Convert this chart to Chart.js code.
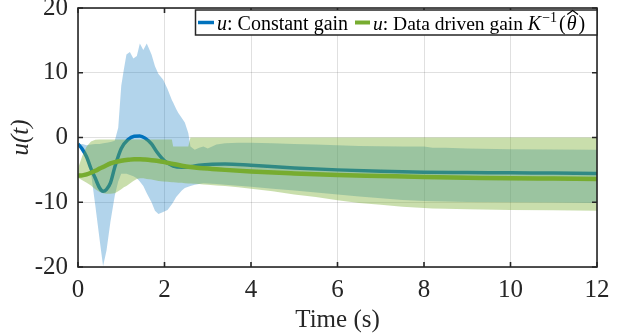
<!DOCTYPE html>
<html><head><meta charset="utf-8">
<script src="https://cdn.jsdelivr.net/npm/chart.js@4.4.0/dist/chart.umd.min.js"></script>
<style>html,body{margin:0;padding:0;background:#fff;overflow:hidden}#wrap{width:619px;height:336px}</style>
</head><body><div id="wrap"><canvas id="c" width="619" height="336"></canvas></div>
<script>
// ---- data ----
const seriesLabels = ['u: Constant gain', 'u: Data driven gain K^{-1}(θ̂)'];
const xTickValues = [0, 2, 4, 6, 8, 10, 12];
const yTickValues = [-20, -10, 0, 10, 20];

const tLine = [0,0.1,0.2,0.3,0.4,0.5,0.58,0.66,0.75,0.85,1.0,1.16,1.3,1.43,1.55,1.7,1.82,2.0,2.2,2.4,2.6,2.8,3.1,3.4,4,5,6,7,8,9,10,11,12];
const uConst = [-1.0,-1.8,-3.0,-4.8,-6.3,-7.8,-8.3,-8.0,-7.0,-4.6,-1.7,-0.3,0.2,0.25,-0.1,-1.0,-2.2,-3.6,-4.4,-4.6,-4.5,-4.3,-4.15,-4.1,-4.3,-4.7,-5.0,-5.2,-5.35,-5.4,-5.45,-5.5,-5.55];
const uData = [-5.9,-5.85,-5.7,-5.45,-5.15,-4.8,-4.55,-4.3,-4.0,-3.8,-3.6,-3.45,-3.35,-3.35,-3.4,-3.5,-3.6,-3.8,-4.1,-4.35,-4.55,-4.7,-4.85,-5.0,-5.25,-5.55,-5.8,-5.95,-6.1,-6.2,-6.3,-6.35,-6.4];

const tBand = [0,0.1,0.2,0.3,0.4,0.5,0.58,0.66,0.75,0.85,0.93,1.0,1.06,1.12,1.2,1.28,1.36,1.43,1.51,1.59,1.7,1.78,1.86,1.97,2.07,2.17,2.2,2.27,2.32,2.4,2.47,2.55,2.6,2.7,2.8,2.9,3.0,3.2,3.4,3.7,4.0,4.5,5.0,5.5,6.0,6.5,7.0,7.5,8.0,8.2,8.5,9,10,11,12];
const constUpper = [-1.0,-1.0,-1.2,-1.1,-1.0,-1.0,-0.9,-0.8,-0.7,-0.5,1.5,8.0,10.5,12.8,13.2,12.2,12.6,14.5,13.5,14.5,12.8,11.0,9.8,8.9,7.5,5.8,5.4,4.4,3.8,3.0,2.3,0.7,-1.4,-1.9,-1.6,-1.4,-1.7,-1.1,-0.9,-0.8,-0.8,-0.9,-1.0,-1.1,-1.2,-1.3,-1.35,-1.4,-1.4,-1.6,-1.6,-1.7,-1.8,-1.85,-1.9];
const constLower = [-1.2,-1.8,-2.6,-5.5,-10.5,-15.8,-19.9,-17.4,-13.0,-9.0,-6.8,-5.6,-5.6,-5.6,-5.8,-6.0,-6.3,-6.8,-7.5,-8.6,-10.0,-11.3,-11.8,-11.5,-11.2,-10.3,-10.0,-9.2,-8.8,-8.2,-7.8,-7.6,-7.5,-7.3,-7.2,-7.05,-7.1,-7.2,-7.3,-7.45,-7.6,-7.9,-8.2,-8.5,-8.8,-9.1,-9.4,-9.65,-9.8,-9.85,-9.9,-9.95,-10.0,-10.05,-10.1];
const dataUpper = [-4.8,-2.8,-1.4,-0.6,-0.35,-0.3,-0.3,-0.3,-0.3,-0.3,-0.3,-0.3,-0.3,-0.3,-0.3,-0.3,-0.3,-0.3,-0.3,-0.3,-0.3,-0.3,-0.3,-0.3,-0.3,-0.3,-1.4,-1.4,-1.4,-1.4,-1.4,-1.4,0,0,0,0,0,0,0,0,0,0,0,0,0,0,0,0,0,0,0,0,0,0,0];
const dataLower = [-6.2,-6.6,-7.0,-7.4,-8.0,-8.4,-8.6,-8.7,-8.7,-8.6,-8.3,-8.0,-7.7,-7.5,-7.1,-6.7,-6.4,-6.3,-6.3,-6.4,-6.5,-6.6,-6.7,-6.8,-6.85,-6.9,-6.9,-6.95,-7.0,-7.0,-7.05,-7.1,-7.1,-7.15,-7.2,-7.25,-7.3,-7.4,-7.5,-7.7,-7.9,-8.3,-8.8,-9.2,-9.7,-10.1,-10.4,-10.7,-10.9,-10.95,-11.0,-11.1,-11.2,-11.25,-11.3];

// ---- styles ----
const BLUE = '#0072BD', GREEN = '#77AC30';
const BLUE_FILL = 'rgba(0,114,189,0.30)', GREEN_FILL = 'rgba(119,172,48,0.40)';
const SERIF = '"Liberation Serif", "Times New Roman", serif';
const AXIS = '#262626';

const pts = (xs, ys) => xs.map((x, i) => ({x, y: ys[i]}));
const edge = {borderColor: 'rgba(0,0,0,0)', borderWidth: 1, pointRadius: 0, tension: 0};

const frame = {
  id: 'frame',
  afterDatasetsDraw(chart) {
    const {ctx, chartArea: a, scales: {x, y}} = chart;
    ctx.save();
    ctx.strokeStyle = AXIS; ctx.lineWidth = 1.6;
    ctx.beginPath();
    const L = 5;
    xTickValues.forEach(v => { const p = x.getPixelForValue(v);
      ctx.moveTo(p, a.bottom); ctx.lineTo(p, a.bottom - L);
      ctx.moveTo(p, a.top); ctx.lineTo(p, a.top + L); });
    yTickValues.forEach(v => { const p = y.getPixelForValue(v);
      ctx.moveTo(a.left, p); ctx.lineTo(a.left + L, p);
      ctx.moveTo(a.right, p); ctx.lineTo(a.right - L, p); });
    ctx.stroke();
    ctx.strokeRect(a.left, a.top, a.right - a.left, a.bottom - a.top);
    ctx.restore();
  }
};

const legendBox = {
  id: 'legendBox',
  afterDraw(chart) {
    const {ctx, chartArea: a} = chart;
    const bx = 195.5, by = 10, bw = a.right - bx, bh = 25;
    ctx.save();
    ctx.fillStyle = '#fff'; ctx.fillRect(bx, by, bw, bh);
    ctx.strokeStyle = AXIS; ctx.lineWidth = 1.5; ctx.strokeRect(bx, by, bw, bh);
    const base = 30, ly = 22.5;
    ctx.fillStyle = '#000'; ctx.textBaseline = 'alphabetic'; ctx.textAlign = 'left';
    let cx;
    const seg = (txt, style, size, dy) => { ctx.font = style + ' ' + size + 'px ' + SERIF; ctx.fillText(txt, cx, base + (dy || 0)); const w = ctx.measureText(txt).width; cx += w; return w; };
    ctx.lineWidth = 3.5; ctx.strokeStyle = BLUE;
    ctx.beginPath(); ctx.moveTo(198, ly); ctx.lineTo(214, ly); ctx.stroke();
    cx = 217;
    seg('u', 'italic', 20); seg(': Constant gain', 'normal', 20);
    ctx.lineWidth = 4; ctx.strokeStyle = GREEN;
    ctx.beginPath(); ctx.moveTo(355, ly); ctx.lineTo(370, ly); ctx.stroke();
    cx = 373;
    seg('u', 'italic', 19.5); seg(': Data driven gain ', 'normal', 19.5);
    seg('K', 'italic', 20); cx += 1;
    seg('\u22121', 'normal', 14, -8); cx += 2;
    seg('(', 'normal', 20); cx += 1;
    const tx = cx; const tw = seg('\u03B8', 'italic', 20); cx += 2;
    seg(')', 'normal', 20);
    ctx.strokeStyle = '#000'; ctx.lineWidth = 1.1;
    ctx.beginPath(); ctx.moveTo(tx + 0.5, base - 15.5); ctx.lineTo(tx + tw / 2 + 1, base - 19.5); ctx.lineTo(tx + tw + 1.5, base - 15.5); ctx.stroke();
    ctx.restore();
  }
};

new Chart(document.getElementById('c'), {
  type: 'line',
  data: {
    datasets: [
      {label: seriesLabels[1], data: pts(tLine, uData), borderColor: GREEN, borderWidth: 4.5, pointRadius: 0, cubicInterpolationMode: 'monotone', fill: false, borderJoinStyle: 'round'},
      {label: 'data upper', data: pts(tBand, dataUpper), ...edge, fill: '+1', backgroundColor: GREEN_FILL},
      {label: 'data lower', data: pts(tBand, dataLower), ...edge, fill: false},
      {label: seriesLabels[0], data: pts(tLine, uConst), borderColor: BLUE, borderWidth: 3.5, pointRadius: 0, cubicInterpolationMode: 'monotone', fill: false, borderJoinStyle: 'round'},
      {label: 'const upper', data: pts(tBand, constUpper), ...edge, fill: '+1', backgroundColor: BLUE_FILL},
      {label: 'const lower', data: pts(tBand, constLower), ...edge, fill: false}
    ]
  },
  options: {
    responsive: false, animation: false, devicePixelRatio: 1,
    layout: {padding: {top: 8, right: 22, left: 0, bottom: 0}},
    plugins: {legend: {display: false}, tooltip: {enabled: false}, filler: {propagate: false}},
    scales: {
      x: {
        type: 'linear', min: 0, max: 12,
        afterFit(s) { s.height = 69; s.paddingLeft = 0; s.paddingRight = 0; },
        afterBuildTicks(s) { s.ticks = xTickValues.map(v => ({value: v})); },
        grid: {color: 'rgba(0,0,0,0.12)', lineWidth: 1, drawTicks: false},
        border: {display: false},
        ticks: {color: AXIS, font: {family: SERIF, size: 25}, padding: 8, maxRotation: 0},
        title: {display: true, text: 'Time (s)', color: AXIS, font: {family: SERIF, size: 25}, padding: {top: 0, bottom: 1}}
      },
      y: {
        type: 'linear', min: -20, max: 20,
        afterFit(s) { s.width = 78; s.paddingTop = 0; s.paddingBottom = 0; },
        afterBuildTicks(s) { s.ticks = yTickValues.map(v => ({value: v})); },
        grid: {color: 'rgba(0,0,0,0.12)', lineWidth: 1, drawTicks: false},
        border: {display: false},
        ticks: {color: AXIS, font: {family: SERIF, size: 25}, padding: 10},
        title: {display: true, text: 'u(t)', color: AXIS, font: {family: SERIF, size: 25, style: 'italic'}, padding: {top: 6, bottom: 0}}
      }
    }
  },
  plugins: [frame, legendBox]
});
</script>
</body></html>
